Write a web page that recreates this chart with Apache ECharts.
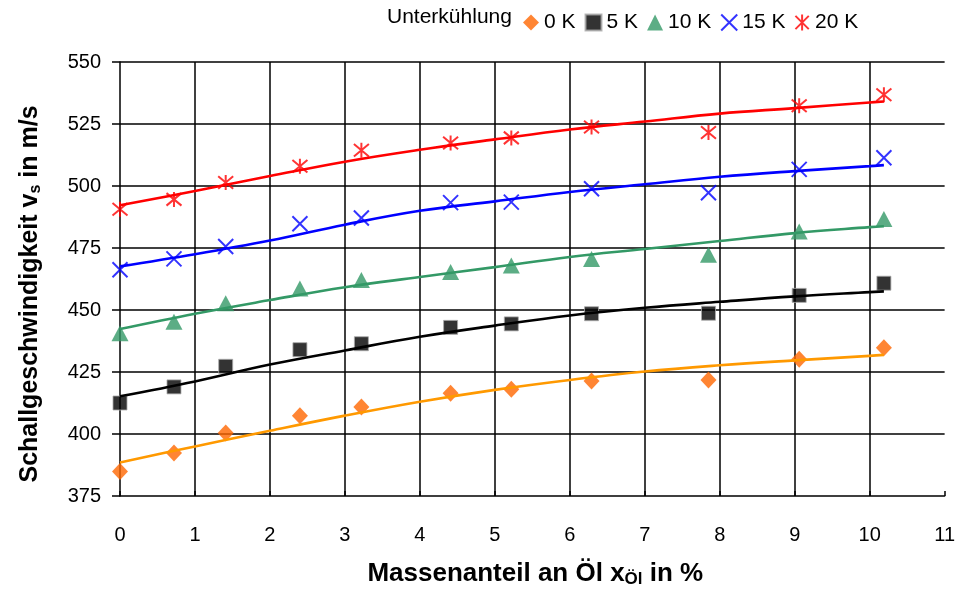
<!DOCTYPE html>
<html><head><meta charset="utf-8">
<script src="https://cdn.jsdelivr.net/npm/echarts@6/dist/echarts.min.js"></script>
<style>html,body{margin:0;padding:0;background:#fff}#c{width:958px;height:594px}</style>
</head><body><div id="c"></div>
<script>
// Measured points: oil mass fraction (%) and speed of sound (m/s)
const xOil = [0, 0.72, 1.41, 2.4, 3.22, 4.41, 5.22, 6.29, 7.85, 9.06, 10.19];
const v0K  = [384.9, 392.3, 400.4, 407.4, 410.9, 416.4, 418.0, 421.4, 421.8, 430.1, 434.8];
const v5K  = [412.5, 419.0, 427.3, 434.0, 436.4, 443.0, 444.4, 448.5, 448.7, 455.9, 460.8];
const v10K = [440.6, 445.3, 452.7, 458.7, 462.1, 465.3, 467.9, 470.6, 472.3, 481.7, 486.7];
const v15K = [466.2, 470.6, 475.6, 484.8, 487.1, 493.3, 493.5, 498.9, 497.3, 506.7, 511.4];
const v20K = [490.6, 494.6, 501.4, 508.0, 514.4, 517.3, 519.4, 523.8, 521.6, 532.4, 536.8];
// Trend lines
const trendX   = [0, 1, 2, 3, 4, 5, 6, 7, 8, 9, 10, 10.19];
const trend0K  = [388.5, 395.0, 401.3, 407.4, 413.0, 417.8, 421.8, 425.2, 427.7, 429.7, 431.5, 431.9];
const trend5K  = [415.2, 421.2, 428.0, 433.7, 439.2, 443.7, 447.8, 450.9, 453.3, 455.5, 457.2, 457.5];
const trend10K = [442.3, 448.5, 454.0, 459.2, 463.3, 467.3, 471.4, 474.6, 477.8, 481.0, 483.4, 483.8];
const trend15K = [467.6, 472.5, 478.0, 484.4, 490.0, 493.8, 497.6, 500.7, 503.7, 506.0, 508.0, 508.4];
const trend20K = [492.2, 498.0, 504.0, 509.8, 514.6, 518.8, 522.8, 526.0, 529.2, 531.4, 533.7, 534.1];
const seriesNames = ['0 K', '5 K', '10 K', '15 K', '20 K'];

const pts = (xs, ys) => xs.map((x, i) => [x, ys[i]]);
const FONT = '"Liberation Sans", Arial, sans-serif';
const chart = echarts.init(document.getElementById('c'));

const markerDefs = [
  {name: seriesNames[0], data: v0K, symbol: 'diamond', size: [16, 17], style: {color: '#FF6600'}},
  {name: seriesNames[1], data: v5K, symbol: 'rect', size: 14, style: {color: '#000', borderColor: '#aaa', borderWidth: 1}},
  {name: seriesNames[2], data: v10K, symbol: 'triangle', size: [17, 16], style: {color: '#339966'}},
  {name: seriesNames[3], data: v15K, symbol: 'path://M0,0L10,10M10,0L0,10', size: 15, style: {color: 'rgba(0,0,0,0)', borderColor: '#0000FF', borderWidth: 2}},
  {name: seriesNames[4], data: v20K, symbol: 'path://M0,0L10,10M10,0L0,10M5,-1L5,11', size: 15, style: {color: 'rgba(0,0,0,0)', borderColor: '#FF0000', borderWidth: 2}}
];
const trendDefs = [
  {data: trend0K, color: '#FF9900'},
  {data: trend5K, color: '#000000'},
  {data: trend10K, color: '#339966'},
  {data: trend15K, color: '#0000FF'},
  {data: trend20K, color: '#FF0000'}
];

const series = [];
markerDefs.forEach(m => series.push({
  type: 'scatter', name: m.name, data: pts(xOil, m.data),
  symbol: m.symbol, symbolSize: m.size, itemStyle: m.style, z: 2
}));
trendDefs.forEach(t => series.push({
  type: 'line', data: pts(trendX, t.data), smooth: 0.4, showSymbol: false, symbol: 'none',
  lineStyle: {color: t.color, width: 2.6}, z: 3, silent: true
}));

chart.setOption({
  animation: false,
  backgroundColor: '#fff',
  textStyle: {fontFamily: FONT},
  graphic: [{type: 'text', left: 387, top: 7, style: {text: 'Unterkühlung', fontSize: 21, fontFamily: FONT, fill: '#000'}}],
  legend: {
    data: seriesNames, left: 518, top: 7, itemWidth: 16, itemHeight: 16, itemGap: 9,
    textStyle: {fontSize: 21, fontFamily: FONT, color: '#000'}
  },
  grid: {left: 120, right: 13, top: 62, bottom: 98},
  xAxis: {
    type: 'value', min: 0, max: 11, interval: 1,
    name: 'Massenanteil an Öl x{sub|Öl} in %', nameLocation: 'middle', nameGap: 63,
    nameTextStyle: {fontSize: 26, fontWeight: 'bold', color: '#000', fontFamily: FONT, padding: [0, 0, 0, 6],
      rich: {sub: {fontSize: 17, fontWeight: 'bold', color: '#000', fontFamily: FONT, padding: [12, 0, 0, 0]}}},
    axisLine: {lineStyle: {color: '#000', width: 1.5}},
    axisTick: {show: true, inside: true, length: 5, lineStyle: {color: '#000', width: 1.5}},
    axisLabel: {fontSize: 20, color: '#000', margin: 29, fontFamily: FONT},
    splitLine: {show: true, showMinLine: false, showMaxLine: false, lineStyle: {color: '#000', width: 1.5}}
  },
  yAxis: {
    type: 'value', min: 375, max: 550, interval: 25,
    name: 'Schallgeschwindigkeit v{sub|s} in m/s', nameLocation: 'middle', nameGap: 76,
    nameTextStyle: {fontSize: 25, fontWeight: 'bold', color: '#000', fontFamily: FONT, padding: [0, 30, 0, 0],
      rich: {sub: {fontSize: 16, fontWeight: 'bold', color: '#000', fontFamily: FONT, padding: [12, 0, 0, 0]}}},
    axisLine: {show: true, lineStyle: {color: '#000', width: 1.5}},
    axisTick: {show: true, length: 8, lineStyle: {color: '#000', width: 1.5}},
    axisLabel: {fontSize: 20, color: '#000', margin: 19, fontFamily: FONT},
    splitLine: {show: true, showMinLine: false, lineStyle: {color: '#000', width: 1.5}}
  },
  series: series
});
</script></body></html>
